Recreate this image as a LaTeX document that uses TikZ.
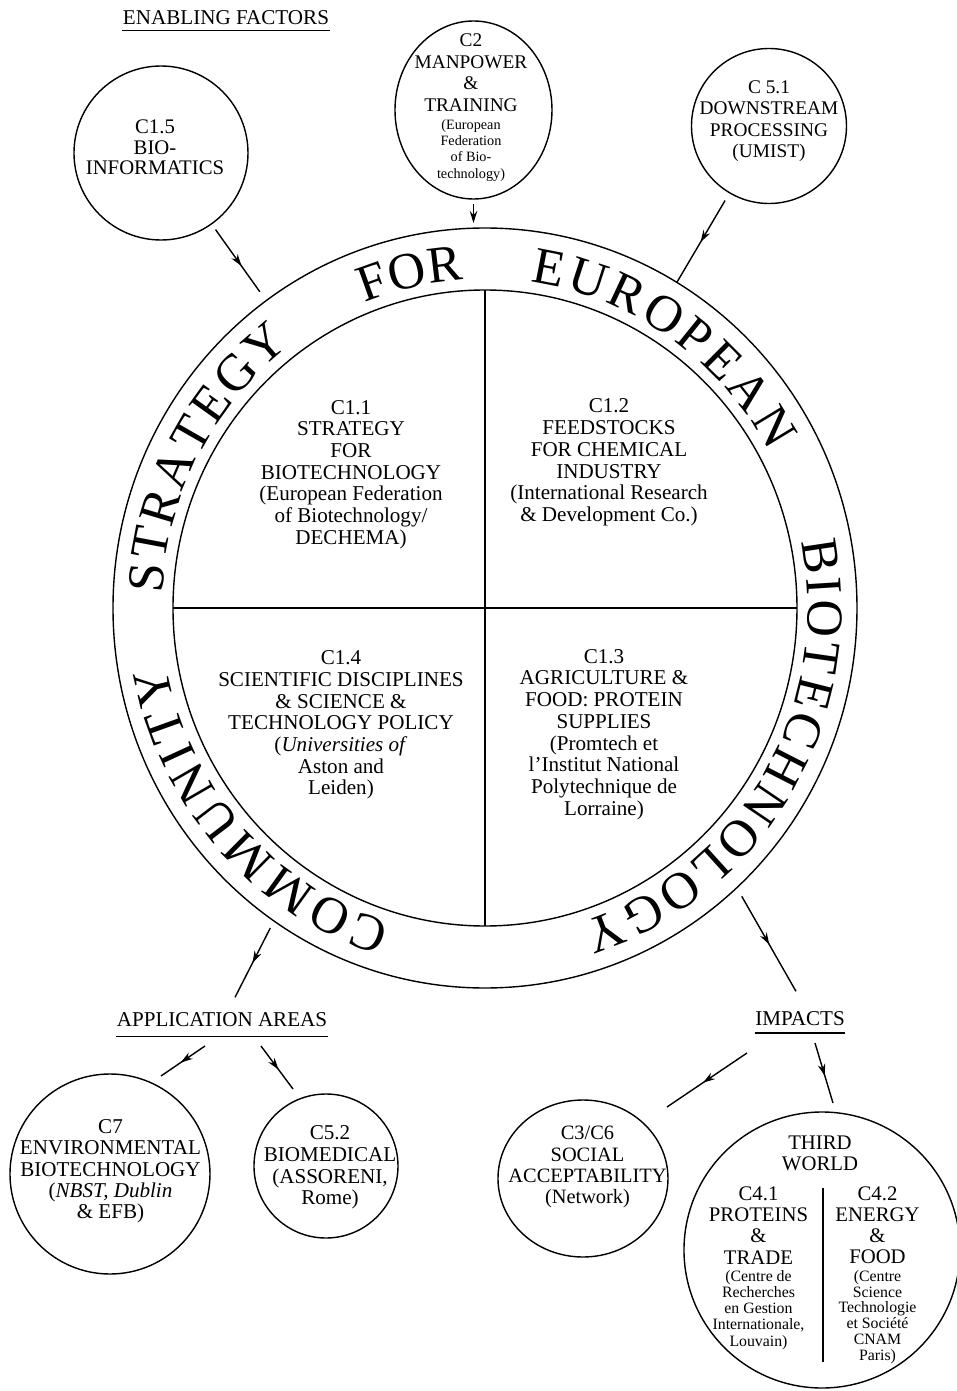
\documentclass[tikz,border=0pt]{standalone}
\usepackage{fontspec}
\setmainfont{Liberation Serif}
\usetikzlibrary{shapes.geometric, decorations.text, decorations.markings, arrows.meta, calc}
\newcommand{\ringfont}{\fontsize{29.5}{32}\selectfont}
\newcommand{\sm}{\fontsize{8.1}{9}\selectfont}
\newcommand{\smm}{\fontsize{9}{10}\selectfont}
\newcommand{\ringword}[3]{%
  \path[decorate, decoration={text along path, text align={fit to path}, text={|\ringfont|#3}}]
    (#1:6.46cm and 6.58cm) arc[start angle=#1, end angle=#2, x radius=6.46, y radius=6.58];}

\begin{document}
\begin{tikzpicture}[line width=0.8pt, >={Stealth[length=2.4mm, width=1.5mm]}]
    \tikzset{bubble/.style={draw, circle, inner sep=0pt, outer sep=0pt},
             oval/.style={draw, ellipse, inner sep=0pt, outer sep=0pt},
             txt/.style={align=center, inner sep=0pt, font=\fontsize{11.5}{12.3}\selectfont},
             quad/.style={txt, font=\fontsize{12}{12.35}\selectfont},
             head/.style={inner sep=0pt, anchor=base, font=\fontsize{12}{14}\selectfont},
             flow/.style={decoration={markings, mark=at position 0.55 with {\arrow{>}}}, postaction={decorate}}}
    \useasboundingbox (-9.70,-15.66) rectangle (9.44,12.16);

    % the strategy ring
    \node[oval, minimum width=14.88cm, minimum height=15.2cm] (ring) at (0,0) {};
    \node[oval, minimum width=12.48cm, minimum height=12.72cm] (core) at (0,0) {};
    \draw (core.west) -- (core.east);
    \draw (core.north) -- (core.south);
    \ringword{253.0}{190.1}{COMMUNITY}
    \ringword{177.4}{127.0}{STRATEGY}
    \ringword{111.8}{93.7}{FOR}
    \ringword{82.0}{28.4}{EUROPEAN}
    \ringword{11.7}{-72.7}{BIOTECHNOLOGY}

    \node[quad] (q11) at (-2.68,2.67) {C1.1\\STRATEGY\\FOR\\BIOTECHNOLOGY\\(European Federation\\of Biotechnology/\\DECHEMA)};
    \node[quad] (q12) at (2.48,2.91) {C1.2\\FEEDSTOCKS\\FOR CHEMICAL\\INDUSTRY\\(International Research\\\& Development Co.)};
    \node[quad] (q14) at (-2.88,-2.34) {C1.4\\SCIENTIFIC DISCIPLINES\\\& SCIENCE \&\\TECHNOLOGY POLICY\\(\textit{Universities of}\\Aston and\\Leiden)};
    \node[quad] (q13) at (2.38,-2.53) {C1.3\\AGRICULTURE \&\\FOOD: PROTEIN\\SUPPLIES\\(Promtech et\\l'Institut National\\Polytechnique de\\Lorraine)};

    % enabling factors
    \node[head] (ef) at (-5.18,11.67) {ENABLING FACTORS};
    \draw ([yshift=-0.12cm]ef.base west) -- ([yshift=-0.12cm]ef.base east);
    \node[bubble, minimum size=3.48cm] (c15) at (-6.48,9.10) {};
    \node[txt, font=\fontsize{11.8}{11.8}\selectfont] (c15t) at (-6.60,9.21) {C1.5\\BIO-\\INFORMATICS};
    \node[oval, minimum width=3.14cm, minimum height=3.56cm] (c2) at (-0.23,9.96) {};
    \node[txt, font=\fontsize{11}{12.3}\selectfont] (c2t) at (-0.28,10.01)
        {C2\\MANPOWER\\\&\\TRAINING\\[-2.1pt]{\sm (European}\\[-3.05pt]{\sm Federation}\\[-3.05pt]{\sm of Bio-}\\[-3.05pt]{\sm technology)}};
    \node[bubble, minimum size=3.1cm] (c51) at (5.68,9.64) {};
    \node[txt, font=\fontsize{11}{12.2}\selectfont] (c51t) at (5.68,9.74) {C 5.1\\DOWNSTREAM\\PROCESSING\\(UMIST)};

    \draw[flow, shorten <=0.14cm, shorten >=0.22cm] (c15) -- (ring);
    \draw[->, shorten <=0.1cm, shorten >=0.1cm] (c2.south) -- (c2.south |- ring.north);
    \draw[flow, shorten <=0.18cm] (c51) -- (ring);

    % application areas
    \node[head] (aa) at (-5.26,-8.37) {APPLICATION AREAS};
    \draw ([yshift=-0.2cm]aa.base west) -- ([yshift=-0.2cm]aa.base east);
    \node[bubble, minimum size=4.0cm] (c7) at (-7.5,-11.32) {};
    \node[txt, font=\fontsize{12}{12.1}\selectfont] (c7t) at (-7.49,-11.27) {C7\\ENVIRONMENTAL\\BIOTECHNOLOGY\\(\textit{NBST, Dublin}\\\& EFB)};
    \node[bubble, minimum size=2.88cm] (c52) at (-3.18,-11.16) {};
    \node[txt, font=\fontsize{12}{12.3}\selectfont] (c52t) at (-3.10,-11.19) {C5.2\\BIOMEDICAL\\(ASSORENI,\\Rome)};

    \draw[flow, shorten <=0.16cm] (ring.236.5) -- ($(aa.north)+(0.26,0.29)$);
    \draw[flow] ($(aa.base)+(-0.34,-0.39)$) -- ($(c7)+(1.02,1.96)$);
    \draw[flow] ($(aa.base)+(0.78,-0.39)$) -- ($(c52)+(-0.66,1.54)$);

    % impacts
    \node[head] (imp) at (6.30,-8.34) {IMPACTS};
    \draw ([yshift=-0.16cm]imp.base west) -- ([yshift=-0.16cm]imp.base east);
    \node[oval, minimum width=3.4cm, minimum height=3.14cm] (c36) at (1.96,-11.41) {};
    \node[txt, font=\fontsize{11.6}{12}\selectfont] (c36t) at (2.05,-11.18) {C3/C6\\SOCIAL\\ACCEPTABILITY\\(Network)};
    \node[bubble, minimum size=5.52cm] (c4) at (6.74,-12.84) {};
    \node[txt, font=\fontsize{11.8}{12.2}\selectfont] (c4t) at (6.70,-10.91) {THIRD\\WORLD};
    \draw (6.76,-11.6) -- (6.76,-15.08);
    \node[txt, font=\fontsize{11.8}{12.1}\selectfont] (c41) at (5.47,-13.2)
        {C4.1\\PROTEINS\\\&\\TRADE\\[-2.2pt]{\smm (Centre de}\\[-2.9pt]{\smm Recherches}\\[-2.9pt]{\smm en Gestion}\\[-2.9pt]{\smm Internationale,}\\[-2.9pt]{\smm Louvain)}};
    \node[txt, font=\fontsize{11.8}{12.1}\selectfont] (c42) at (7.85,-13.34)
        {C4.2\\ENERGY\\\&\\FOOD\\[-2.2pt]{\smm (Centre}\\[-3.1pt]{\smm Science}\\[-3.1pt]{\smm Technologie}\\[-3.1pt]{\smm et Société}\\[-3.1pt]{\smm CNAM}\\[-3.1pt]{\smm Paris)}};

    \draw[flow, shorten <=0.2cm] (ring.-48.5) -- ($(imp.north)+(-0.08,0.38)$);
    \draw[flow] ($(imp.base)+(-1.06,-0.56)$) -- ($(c36)+(1.68,1.43)$);
    \draw[flow] ($(imp.base)+(0.30,-0.36)$) -- ($(c4)+(0.22,2.94)$);
\end{tikzpicture}
\end{document}
